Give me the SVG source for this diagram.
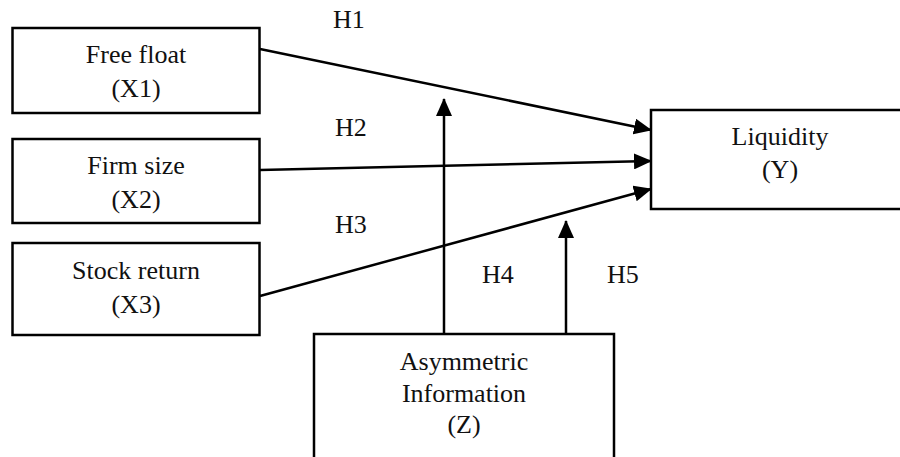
<svg xmlns="http://www.w3.org/2000/svg" width="900" height="457" viewBox="0 0 900 457">
<style>
.box{fill:#fff;stroke:#000;stroke-width:2.5}
.t{font-family:"Liberation Serif","Times New Roman",serif;font-size:26px;fill:#111;text-anchor:middle}
.h{font-family:"Liberation Serif","Times New Roman",serif;font-size:26px;fill:#111}
.c{stroke:#000;stroke-width:2.5;fill:none;marker-end:url(#ah)}
</style>
<defs>
<marker id="ah" markerUnits="userSpaceOnUse" markerWidth="18" markerHeight="16" viewBox="0 0 18 16" refX="17" refY="8" orient="auto">
<path d="M0,0 L18,8 L0,16 z" fill="#000"/>
</marker>
</defs>
<g id="n-x1"><rect class="box" x="12.5" y="28" width="247" height="85"/><text class="t" x="136" y="63">Free float</text><text class="t" x="136" y="97">(X1)</text></g>
<g id="n-x2"><rect class="box" x="12.5" y="139" width="247" height="84"/><text class="t" x="136" y="174">Firm size</text><text class="t" x="136" y="208">(X2)</text></g>
<g id="n-x3"><rect class="box" x="12.5" y="243" width="247" height="92"/><text class="t" x="136" y="279">Stock return</text><text class="t" x="136" y="313">(X3)</text></g>
<g id="n-y"><rect class="box" x="651" y="110" width="270" height="99"/><text class="t" x="780" y="145">Liquidity</text><text class="t" x="780" y="178">(Y)</text></g>
<g id="n-z"><rect class="box" x="314" y="334" width="300" height="140"/><text class="t" x="464" y="370">Asymmetric</text><text class="t" x="464" y="402">Information</text><text class="t" x="464" y="433">(Z)</text></g>
<g id="connectors">
<line class="c" x1="260" y1="49" x2="651" y2="130"/>
<line class="c" x1="260" y1="170" x2="651" y2="161"/>
<line class="c" x1="260" y1="296" x2="651" y2="189"/>
<line class="c" x1="444" y1="334" x2="444" y2="99"/>
<line class="c" x1="566" y1="334" x2="566" y2="221"/>
</g>
<g id="labels">
<text class="h" x="333" y="28">H1</text>
<text class="h" x="335" y="136">H2</text>
<text class="h" x="335" y="233">H3</text>
<text class="h" x="482" y="283">H4</text>
<text class="h" x="607" y="283">H5</text>
</g>
</svg>
